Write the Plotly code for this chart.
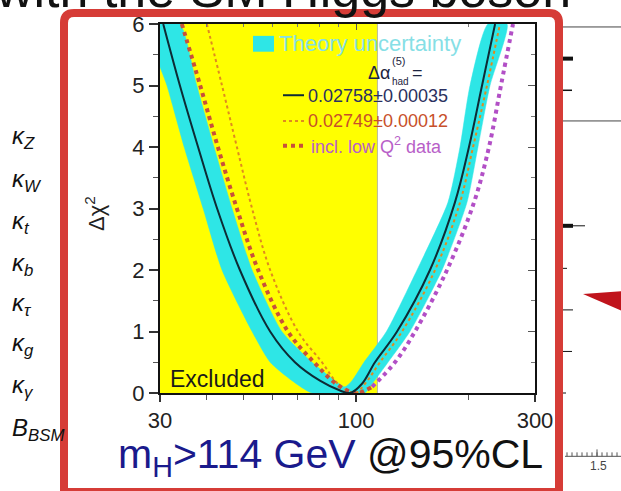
import math
import plotly.graph_objects as go

# ---------------- data ----------------
mh_range = [30, 300]
dchi_range = [0, 6]
excl_limit = 114
x_tickvals = [30, 100, 300]
x_minor = [40, 50, 60, 70, 80, 90, 200]
y_tickvals = [0, 1, 2, 3, 4, 5, 6]

central_mh = [30.6, 33.9, 37.9, 42.6, 49.0, 59.0, 68.7, 80.1, 90.6, 96.4, 103.7, 112.3, 128.6, 157.4, 183.5, 200.0, 216.7, 234.8]
central_dchi = [6, 5, 4, 3, 2, 1, 0.5, 0.2, 0.04, 0, 0.15, 0.5, 1, 2, 3.1, 4, 5, 6]

band_low_mh = [30.0, 31.3, 34.8, 39.1, 43.9, 52.8, 59.0, 67.5, 76.3, 105.6, 108.9, 121.7, 139.2, 169.5, 197.6, 211.4, 227.6, 252.6]
band_low_dchi = [5.3, 5.0, 4.0, 3.0, 2.0, 1.0, 0.5, 0.2, 0.0, 0.0, 0.1, 0.5, 1.0, 2.0, 3.1, 4.0, 5.0, 6.0]
band_up_mh = [30.0, 33.9, 37.6, 41.8, 46.7, 52.8, 63.4, 76.3, 87.9, 93.4, 97.5, 105.0, 120.5, 145.4, 175.8, 189.3, 201.3, 224.8]
band_up_dchi = [6.0, 6.0, 5.0, 4.0, 3.0, 2.0, 1.0, 0.5, 0.2, 0.1, 0.2, 0.5, 1.0, 2.0, 3.1, 4.0, 5.0, 6.0]

alt_mh = [40.0, 43.9, 48.1, 52.8, 59.0, 70.0, 81.1, 89.5, 99.3, 105.6, 115.8, 132.6, 162.4, 189.3, 205.1, 223.4, 241.9]
alt_dchi = [6, 5, 4, 3, 2, 1, 0.5, 0.15, 0, 0.15, 0.5, 1, 2, 3.1, 4, 5, 6]

lowq_mh = [34.3, 38.4, 42.8, 48.1, 54.8, 65.8, 77.2, 88.4, 96.4, 101.2, 110.3, 127.0, 143.6, 174.8, 206.3, 226.2, 243.4, 262.1]
lowq_dchi = [6, 5, 4, 3, 2, 1, 0.5, 0.15, 0.02, 0, 0.1, 0.5, 1, 2, 3.1, 4, 5, 6]

legend_labels = ["0.02758\u00b10.00035", "0.02749\u00b10.00012", "incl. low Q<sup>2</sup> data"]
kappa_labels = ["<i>\u03ba<sub>Z</sub></i>", "<i>\u03ba<sub>W</sub></i>", "<i>\u03ba<sub>t</sub></i>",
                "<i>\u03ba<sub>b</sub></i>", "<i>\u03ba<sub>\u03c4</sub></i>", "<i>\u03ba<sub>g</sub></i>",
                "<i>\u03ba<sub>\u03b3</sub></i>", "<i>B<sub>BSM</sub></i>"]
kappa_y = [135, 178, 221, 263, 304, 344, 386, 430]

FONT = "Liberation Sans, Arial, sans-serif"

# pixel -> paper helpers (plot area: x 160..535, y 20..393)
def PX(px):
    return (px - 160) / 375.0

def PY(py):
    return (393 - py) / 373.0

fig = go.Figure()

# theory band
fig.add_trace(go.Scatter(
    x=band_low_mh + band_up_mh[::-1], y=band_low_dchi + band_up_dchi[::-1],
    fill="toself", fillcolor="#2ee6e6", mode="lines",
    line=dict(width=0.5, color="#2ee6e6", shape="spline", smoothing=0.6),
    hoverinfo="skip"))

# thin dotted orange
fig.add_trace(go.Scatter(x=alt_mh, y=alt_dchi, mode="lines",
                         line=dict(color="#e08a1e", width=2, dash="dot", shape="spline"), hoverinfo="skip"))

# thick dotted (incl. low Q2); drawn in two pieces so it looks reddish over the yellow area
left_idx = [i for i, m in enumerate(lowq_mh) if m <= excl_limit]
right_idx = [i for i, m in enumerate(lowq_mh) if m >= lowq_mh[left_idx[-1]]]
fig.add_trace(go.Scatter(x=[lowq_mh[i] for i in left_idx], y=[lowq_dchi[i] for i in left_idx], mode="lines",
                         line=dict(color="#c8503a", width=4, dash="dot", shape="spline"), hoverinfo="skip"))
fig.add_trace(go.Scatter(x=[lowq_mh[i] for i in right_idx], y=[lowq_dchi[i] for i in right_idx], mode="lines",
                         line=dict(color="#b24fc6", width=4, dash="dot", shape="spline"), hoverinfo="skip"))

# central solid curve
fig.add_trace(go.Scatter(x=central_mh, y=central_dchi, mode="lines",
                         line=dict(color="#0d2b35", width=2, shape="spline"), hoverinfo="skip"))

# dummy trace for the mirrored (inside-tick) axes
fig.add_trace(go.Scatter(x=[mh_range[0]], y=[dchi_range[0]], xaxis="x2", yaxis="y2", mode="markers",
                         marker=dict(opacity=0), hoverinfo="skip"))

lr = [math.log10(mh_range[0]), math.log10(mh_range[1])]

fig.update_layout(
    width=621, height=491,
    margin=dict(l=160, r=86, t=20, b=98),
    paper_bgcolor="white", plot_bgcolor="white",
    showlegend=False,
    font=dict(family=FONT, color="#222"),
    xaxis=dict(type="log", range=lr, tickvals=x_tickvals, ticktext=[str(v) for v in x_tickvals],
               ticks="outside", ticklen=7, tickwidth=1.5, tickcolor="#333",
               minor=dict(tickvals=x_minor, ticks="outside", ticklen=5, tickwidth=1, tickcolor="#555"),
               showline=True, linewidth=2, linecolor="#111", mirror=True, showgrid=False, zeroline=False,
               tickfont=dict(size=22, color="#222", family=FONT)),
    yaxis=dict(range=dchi_range, tickvals=y_tickvals, ticks="outside", ticklen=9, tickwidth=1.5, tickcolor="#333",
               minor=dict(dtick=0.5, ticks="outside", ticklen=5, tickwidth=1, tickcolor="#555"),
               showline=True, linewidth=2, linecolor="#111", mirror=True, showgrid=False, zeroline=False,
               tickfont=dict(size=22, color="#222", family=FONT)),
    xaxis2=dict(type="log", range=lr, overlaying="x", side="top", tickvals=x_tickvals, showticklabels=False,
                ticks="inside", ticklen=6, tickwidth=1, tickcolor="#555",
                minor=dict(tickvals=x_minor, ticks="inside", ticklen=3, tickcolor="#777"),
                showgrid=False, zeroline=False, showline=False),
    yaxis2=dict(range=dchi_range, overlaying="y", side="right", tickvals=y_tickvals, showticklabels=False,
                ticks="inside", ticklen=7, tickwidth=1, tickcolor="#555",
                minor=dict(dtick=0.5, ticks="inside", ticklen=4, tickcolor="#777"),
                showgrid=False, zeroline=False, showline=False),
)

shapes = []
# excluded region
shapes.append(dict(type="rect", xref="x", yref="y", x0=mh_range[0], x1=excl_limit, y0=dchi_range[0], y1=dchi_range[1],
                   fillcolor="#ffff00", line=dict(width=0), layer="below"))
shapes.append(dict(type="line", xref="x", yref="y", x0=excl_limit, x1=excl_limit, y0=dchi_range[0], y1=dchi_range[1],
                   line=dict(color="#b8b8a0", width=1), layer="below"))

# legend swatches
shapes.append(dict(type="rect", xref="paper", yref="paper", x0=PX(253), x1=PX(274), y0=PY(48), y1=PY(32),
                   fillcolor="#2ee6e6", line=dict(width=0)))
shapes.append(dict(type="line", xref="paper", yref="paper", x0=PX(283), x1=PX(304), y0=PY(92), y1=PY(92),
                   line=dict(color="#0d2b35", width=2)))
shapes.append(dict(type="line", xref="paper", yref="paper", x0=PX(283), x1=PX(304), y0=PY(118), y1=PY(118),
                   line=dict(color="#e08a1e", width=2, dash="dot")))
shapes.append(dict(type="line", xref="paper", yref="paper", x0=PX(283), x1=PX(304), y0=PY(143), y1=PY(143),
                   line=dict(color="#c8503a", width=4, dash="dot")))

# red rounded frame
r = 10
fx0, fx1, fy0, fy1 = 64, 559, 9, 493
path = (f"M {PX(fx0)},{PY(fy1)} L {PX(fx0)},{PY(fy0 + r)} Q {PX(fx0)},{PY(fy0)} {PX(fx0 + r)},{PY(fy0)} "
        f"L {PX(fx1 - r)},{PY(fy0)} Q {PX(fx1)},{PY(fy0)} {PX(fx1)},{PY(fy0 + r)} L {PX(fx1)},{PY(fy1)} Z")
shapes.append(dict(type="path", xref="paper", yref="paper", path=path, line=dict(color="#d63c37", width=8)))

# background chart pieces on the right
for y in (23, 118):
    shapes.append(dict(type="line", xref="paper", yref="paper", x0=PX(563), x1=PX(621), y0=PY(y), y1=PY(y),
                       line=dict(color="#444", width=1)))
for y, x1, w in ((55, 573, 4), (87, 572, 1.5), (224, 573, 4), (267, 567, 1), (309, 573, 1), (351, 572, 1), (393, 566, 1)):
    shapes.append(dict(type="line", xref="paper", yref="paper", x0=PX(563), x1=PX(x1), y0=PY(y), y1=PY(y),
                       line=dict(color="#111", width=w)))
shapes.append(dict(type="line", xref="paper", yref="paper", x0=PX(573), x1=PX(585), y0=PY(224), y1=PY(224),
                   line=dict(color="#111", width=1)))
shapes.append(dict(type="line", xref="paper", yref="paper", x0=PX(565), x1=PX(621), y0=PY(457), y1=PY(457),
                   line=dict(color="#555", width=1)))
for x in range(567, 621, 5):
    shapes.append(dict(type="line", xref="paper", yref="paper", x0=PX(x), x1=PX(x), y0=PY(457), y1=PY(453),
                       line=dict(color="#555", width=1)))
shapes.append(dict(type="line", xref="paper", yref="paper", x0=PX(597), x1=PX(597), y0=PY(457), y1=PY(450),
                   line=dict(color="#555", width=1)))
shapes.append(dict(type="path", xref="paper", yref="paper",
                   path=f"M {PX(583)},{PY(293)} L {PX(622)},{PY(290)} L {PX(622)},{PY(310)} Z",
                   fillcolor="#c0141c", line=dict(width=0)))

fig.update_layout(shapes=shapes)

ann = []
def A(text, px, py, size, color="#222", xanchor="left", yanchor="middle", textangle=0):
    ann.append(dict(text=text, x=PX(px), y=PY(py), xref="paper", yref="paper", showarrow=False,
                    xanchor=xanchor, yanchor=yanchor, textangle=textangle, borderpad=0,
                    font=dict(size=size, color=color, family=FONT)))

# slide title (cut off at the top edge)
A("with the SM Higgs boson", 572, 15, 52, "#111", xanchor="right", yanchor="bottom")

A("Theory uncertainty", 278, 40, 22, "#86dfe6")
A("\u0394\u03b1", 367, 70, 18, "#1d2440")
A("(5)", 391, 57, 11, "#1d2440")
A("had", 391, 78, 10, "#1d2440")
A("=", 411, 70, 18, "#1d2440")
A(legend_labels[0], 307, 93, 18, "#2b3060")
A(legend_labels[1], 307, 118, 18, "#c8502a")
A(legend_labels[2], 310, 143, 18, "#b860c8")
A("Excluded", 169, 379, 23, "#1a1a1a")
A("\u0394\u03c7<sup>2</sup>", 95, 212, 22, "#222", xanchor="center", textangle=-90)

A("m<sub>H</sub>&gt;114 GeV <span style='color:#111'>@95%CL</span>", 117, 458, 41, "#1a1a8c")

for i, lab in enumerate(kappa_labels):
    A(lab, 11, kappa_y[i], 24, "#111")

A("1.5", 598, 467, 12, "#444", xanchor="center")

fig.update_layout(annotations=ann)

fig.write_html("out.html")
